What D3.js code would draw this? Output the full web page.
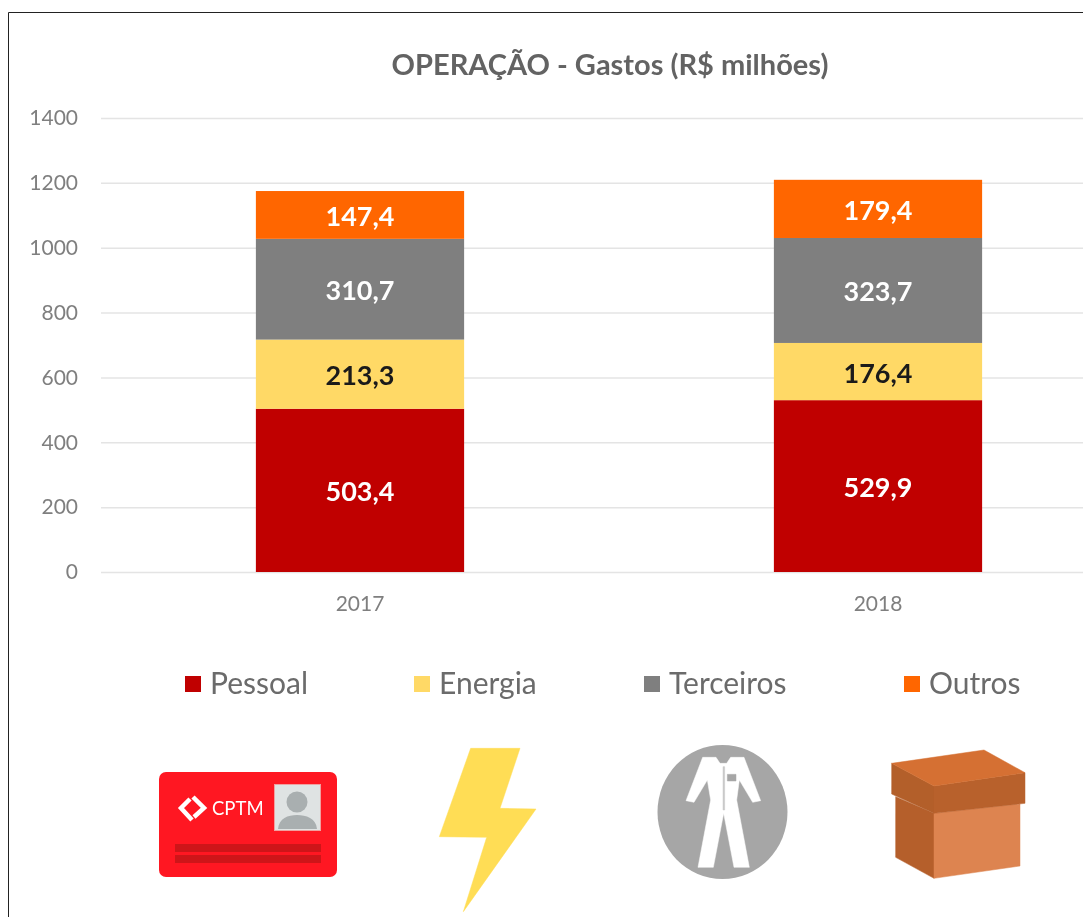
<!DOCTYPE html>
<html>
<head>
<meta charset="utf-8">
<script src="https://cdn.jsdelivr.net/npm/d3@7"></script>
<style>
html, body { margin: 0; padding: 0; background: #fff; overflow: hidden; }
text { font-family: Lato, "Open Sans", sans-serif; }
</style>
</head>
<body>
<div id="chart"></div>
<script>
let years = ["2017", "2018"];
let categories = ["Pessoal", "Energia", "Terceiros", "Outros"];
let pessoal = [503.4, 529.9];
let energia = [213.3, 176.4];
let terceiros = [310.7, 323.7];
let outros = [147.4, 179.4];
let y_ticks = [0, 200, 400, 600, 800, 1000, 1200, 1400];
let colors = ["#C00000", "#FFD966", "#7F7F7F", "#FF6600"];
let label_colors = ["#fff", "#1a1a1a", "#fff", "#fff"];
let legend_x = [185, 414, 644, 904];

let _default = { width: 1083, height: 917, x0: 101, x1: 1137, y0: 572, y1: 118 };

// slight softening, the reference is an upscaled screenshot
let svg = d3.select("div#chart").append("svg")
    .attr("width", _default.width)
    .attr("height", _default.height)
    .style("display", "block")
    .style("filter", "blur(0.45px)");

// frame, only top and left are visible
svg.append("path")
    .attr("d", "M8.5,917V12.5H1083")
    .attr("fill", "none")
    .attr("stroke", "#222")
    .attr("stroke-width", 1);

let x = d3.scaleBand().domain(years).range([_default.x0, _default.x1]).paddingInner(0.598).paddingOuter(0.299);
let y = d3.scaleLinear().domain([0, 1400]).range([_default.y0, _default.y1]);

svg.append("text")
    .attr("x", 610)
    .attr("y", 75)
    .attr("text-anchor", "middle")
    .attr("font-size", 29)
    .attr("font-weight", 700)
    .attr("fill", "#636363")
    .text("OPERAÇÃO - Gastos (R$ milhões)");

// y axis, gridlines come from the tick lines
let y_axis = svg.append("g")
    .attr("transform", `translate(${_default.x0},0)`)
    .call(d3.axisLeft(y).tickValues(y_ticks).tickSize(-(_default.x1 - _default.x0)).tickPadding(23).tickFormat(d3.format("d")));
y_axis.select(".domain").remove();
y_axis.selectAll("line").attr("stroke", "#E4E4E4").attr("stroke-width", 1.5);
y_axis.selectAll("text").attr("font-size", 21).attr("fill", "#7f7f7f");

let x_axis = svg.append("g")
    .attr("transform", `translate(0,${_default.y0})`)
    .call(d3.axisBottom(x).tickSize(0).tickPadding(24));
x_axis.select(".domain").remove();
x_axis.selectAll("text").attr("font-size", 21).attr("fill", "#7f7f7f");

// stacked bars
let rows = years.map((year, i) => ({
    year: year,
    Pessoal: pessoal[i],
    Energia: energia[i],
    Terceiros: terceiros[i],
    Outros: outros[i]
}));
let series = d3.stack().keys(categories)(rows);

let fmt = v => v.toFixed(1).replace(".", ",");

let layers = svg.selectAll("g.layer").data(series).enter().append("g").attr("class", "layer");
layers.selectAll("rect").data(d => d).enter().append("rect")
    .attr("x", d => x(d.data.year))
    .attr("y", d => y(d[1]))
    .attr("width", x.bandwidth())
    .attr("height", d => y(d[0]) - y(d[1]))
    .attr("fill", function () { return colors[d3.select(this.parentNode).datum().index]; });
layers.selectAll("text").data(d => d.map(p => ({ p: p, key: d.key, index: d.index }))).enter().append("text")
    .attr("x", d => x(d.p.data.year) + x.bandwidth() / 2)
    .attr("y", d => y((d.p[0] + d.p[1]) / 2) + 11)
    .attr("text-anchor", "middle")
    .attr("font-size", 27)
    .attr("font-weight", 700)
    .attr("fill", d => label_colors[d.index])
    .text(d => fmt(d.p.data[d.key]));

// legend
let legend = svg.selectAll("g.legend").data(categories).enter().append("g")
    .attr("class", "legend")
    .attr("transform", (d, i) => `translate(${legend_x[i]},676)`);
legend.append("rect")
    .attr("width", 16)
    .attr("height", 16)
    .attr("fill", (d, i) => colors[i]);
legend.append("text")
    .attr("x", 25)
    .attr("y", 18)
    .attr("font-size", 30)
    .attr("fill", "#6b6b6b")
    .text(d => d);

// icons, points taken from a 3x crop
let icons = svg.append("g");
let poly = (ox, oy, pts, fill) => icons.append("polygon")
    .attr("points", pts.map(p => `${ox + p[0] / 3},${oy + p[1] / 3}`).join(" "))
    .attr("fill", fill)
    .attr("stroke", fill)
    .attr("stroke-width", 0.5)
    .attr("stroke-linejoin", "round");

// card
icons.append("rect").attr("x", 159).attr("y", 772).attr("width", 178).attr("height", 105).attr("rx", 7).attr("fill", "#FF1722");
icons.append("rect").attr("x", 274.5).attr("y", 784.5).attr("width", 46).attr("height", 46).attr("fill", "#DFE3E3").attr("stroke", "#F0A0A0").attr("stroke-width", 1);
icons.append("circle").attr("cx", 297).attr("cy", 802).attr("r", 10.5).attr("fill", "#A9AFB0");
icons.append("path").attr("d", "M278,829 C279,818 288,815 297,815 C306,815 316,818 317,829 Z").attr("fill", "#A9AFB0");
icons.append("rect").attr("x", 175).attr("y", 844).attr("width", 146).attr("height", 8).attr("fill", "#CE1519");
icons.append("rect").attr("x", 175).attr("y", 855).attr("width", 146).attr("height", 8).attr("fill", "#CE1519");
icons.append("path")
    .attr("d", "M190,799 L181,808 L192,820 M193,797 L204,808 L194,817")
    .attr("fill", "none")
    .attr("stroke", "#fff")
    .attr("stroke-width", 4.5);
icons.append("text")
    .attr("x", 212)
    .attr("y", 815)
    .attr("font-size", 18.5)
    .attr("fill", "#fff")
    .text("CPTM");

// bolt
poly(140, 730, [[992, 55], [1140, 55], [1080, 235], [1188, 237], [970, 545], [1040, 322], [898, 320]], "#FFDD55");

// suit
icons.append("ellipse").attr("cx", 722.5).attr("cy", 812).attr("rx", 65).attr("ry", 67).attr("fill", "#A6A6A6");
poly(630, 730, [[218, 82], [258, 82], [270, 100], [290, 100], [302, 82], [342, 82], [392, 212], [368, 217], [328, 150], [320, 210], [358, 412], [312, 412], [281, 250], [250, 412], [204, 412], [242, 210], [232, 150], [192, 217], [168, 212]], "#fff");
poly(630, 730, [[292, 133], [318, 133], [318, 153], [292, 153]], "#A6A6A6");
poly(630, 730, [[279, 110], [284, 110], [284, 240], [279, 240]], "#C9C9C9");

// box
poly(630, 730, [[797, 200], [912, 250], [912, 445], [797, 382]], "#B55F2B");
poly(630, 730, [[912, 250], [1170, 222], [1170, 408], [912, 445]], "#DD8450");
poly(630, 730, [[785, 100], [912, 168], [912, 250], [785, 192]], "#B35F2A");
poly(630, 730, [[912, 168], [1185, 128], [1185, 220], [912, 250]], "#B8612C");
poly(630, 730, [[785, 100], [1062, 60], [1185, 128], [912, 168]], "#D57033");
</script>
</body>
</html>
